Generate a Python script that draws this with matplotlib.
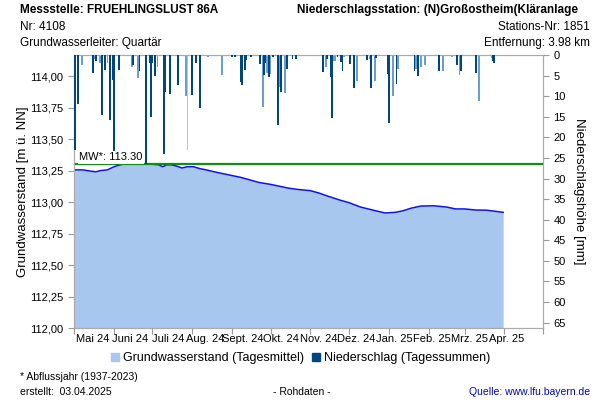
import datetime as dt
import matplotlib
matplotlib.use('Agg')
import matplotlib.pyplot as plt
import matplotlib.dates as mdates
from matplotlib.lines import Line2D

plt.rcParams['font.family'] = ['Liberation Sans', 'DejaVu Sans']

# Grundwasserstand (Tagesmittel)
gw_dates = ['2024-05-01', '2024-05-08', '2024-05-14', '2024-05-18', '2024-05-22', '2024-05-27',
            '2024-05-31', '2024-06-04', '2024-06-08', '2024-06-20', '2024-07-01', '2024-07-06',
            '2024-07-09', '2024-07-12', '2024-07-16', '2024-07-20', '2024-07-24', '2024-07-28',
            '2024-08-02', '2024-08-07', '2024-08-12', '2024-08-18', '2024-08-25', '2024-09-01',
            '2024-09-08', '2024-09-15', '2024-09-22', '2024-10-01', '2024-10-08', '2024-10-15',
            '2024-10-22', '2024-11-01', '2024-11-08', '2024-11-15', '2024-11-24', '2024-12-01',
            '2024-12-10', '2024-12-16', '2024-12-22', '2024-12-29', '2025-01-06', '2025-01-12',
            '2025-01-18', '2025-01-26', '2025-02-05', '2025-02-15', '2025-02-22', '2025-03-01',
            '2025-03-10', '2025-03-18', '2025-03-22', '2025-03-31']
gw_levels = [113.255, 113.255, 113.245, 113.240, 113.250, 113.255,
             113.275, 113.290, 113.300, 113.300, 113.300, 113.295,
             113.280, 113.295, 113.295, 113.285, 113.270, 113.280,
             113.280, 113.265, 113.255, 113.240, 113.225, 113.210,
             113.195, 113.175, 113.155, 113.140, 113.125, 113.110,
             113.100, 113.090, 113.070, 113.045, 113.015, 112.995,
             112.960, 112.945, 112.930, 112.913, 112.918, 112.930,
             112.950, 112.968, 112.970, 112.960, 112.945, 112.945,
             112.936, 112.935, 112.930, 112.918]

# Niederschlag (Tagessummen) in mm, dark and light bars
rain_dark_dates = ['2024-05-02', '2024-05-04', '2024-05-16', '2024-05-18', '2024-05-23', '2024-05-25',
                   '2024-05-29', '2024-05-31', '2024-06-01', '2024-06-05', '2024-06-16', '2024-06-21',
                   '2024-06-26', '2024-06-29', '2024-06-30', '2024-07-01', '2024-07-03', '2024-07-10',
                   '2024-07-11', '2024-07-15', '2024-07-21', '2024-08-01', '2024-08-04', '2024-08-07',
                   '2024-09-01', '2024-09-03', '2024-09-08', '2024-09-09', '2024-09-11', '2024-09-12',
                   '2024-09-16', '2024-09-23', '2024-09-26', '2024-09-27', '2024-09-30', '2024-10-03',
                   '2024-10-07', '2024-10-09', '2024-10-14', '2024-10-18', '2024-10-21', '2024-11-11',
                   '2024-11-14', '2024-11-17', '2024-11-18', '2024-11-22', '2024-11-25', '2024-11-26',
                   '2024-12-02', '2024-12-05', '2024-12-15', '2024-12-18', '2024-12-22', '2024-12-31',
                   '2025-01-01', '2025-01-07', '2025-01-21', '2025-01-24', '2025-02-09', '2025-02-23',
                   '2025-02-26', '2025-03-10', '2025-03-23', '2025-03-24']
rain_dark_mm = [23.0, 12.0, 4.4, 1.5, 14.6, 3.6,
                15.8, 6.0, 24.0, 3.6, 2.5, 4.0,
                26.5, 2.0, 15.0, 2.0, 5.0, 24.0,
                9.0, 9.4, 7.2, 9.7, 2.0, 12.8,
                0.5, 0.5, 6.6, 7.2, 3.7, 1.2,
                0.6, 2.3, 4.9, 2.0, 5.4, 0.6,
                17.0, 9.0, 3.3, 1.0, 1.0, 4.1,
                1.0, 5.4, 15.3, 0.6, 1.6, 4.0,
                2.2, 8.0, 1.2, 8.0, 0.8, 4.5,
                16.6, 7.0, 4.0, 5.0, 3.8, 2.4,
                3.8, 4.3, 1.5, 2.0]

rain_light_dates = ['2024-05-07', '2024-05-17', '2024-05-21', '2024-05-27', '2024-06-15', '2024-06-20',
                    '2024-07-05', '2024-07-27', '2024-08-13', '2024-08-24', '2024-09-25', '2024-09-28',
                    '2024-10-01', '2024-10-08', '2024-10-12', '2024-11-13', '2024-11-19', '2024-11-20',
                    '2024-11-27', '2024-12-07', '2024-12-17', '2024-12-21', '2025-01-04', '2025-01-08',
                    '2025-01-22', '2025-01-26', '2025-01-29', '2025-02-12', '2025-02-19', '2025-02-25',
                    '2025-03-12', '2025-03-22']
rain_light_mm = [2.4, 1.0, 2.0, 2.0, 3.0, 5.5,
                 3.0, 10.0, 0.5, 4.8, 12.7, 4.3,
                 4.5, 7.8, 9.3, 2.9, 1.5, 1.5,
                 0.6, 6.4, 1.0, 6.3, 10.0, 3.5,
                 3.5, 3.0, 2.4, 3.8, 0.5, 4.9,
                 11.1, 0.8]

# one very pale bar
rain_pale_dates = ['2024-07-28']
rain_pale_mm = [23.0]

mw_value = 113.30
month_labels = ['Mai 24', 'Juni 24', 'Juli 24', 'Aug. 24', 'Sept. 24', 'Okt. 24',
                'Nov. 24', 'Dez. 24', 'Jan. 25', 'Feb. 25', 'Mrz. 25', 'Apr. 25']
left_ticks = [112.00, 112.25, 112.50, 112.75, 113.00, 113.25, 113.50, 113.75, 114.00]
right_ticks = list(range(0, 70, 5))


def to_dt(lst):
    return [dt.datetime.strptime(s, '%Y-%m-%d') for s in lst]


fig = plt.figure(figsize=(6, 4), dpi=100)
ax = fig.add_axes([74 / 600, 72 / 400, 469 / 600, 273 / 400])

gx = to_dt(gw_dates)
ax.fill_between(gx, gw_levels, 112.0, color='#a7c7ef', lw=0, zorder=1)
ax.plot(gx, gw_levels, color='#1010ee', lw=1.1, zorder=2)
ax.axhline(mw_value, color='#109010', lw=1.6, zorder=3)

x0 = dt.datetime(2024, 5, 1)
x1 = dt.datetime(2025, 5, 1)
ax.set_xlim(x0, x1)
ax.set_ylim(112.0, 114.167)
ax.set_yticks(left_ticks)
ax.set_yticklabels([f'{v:.2f}'.replace('.', ',') for v in left_ticks])
ax.set_ylabel('Grundwasserstand [m ü. NN]', fontsize=9.5, labelpad=1)

# month ticks at the first of each month, labels spread out evenly
ax.xaxis.set_major_locator(mdates.MonthLocator())
ax.xaxis.set_major_formatter(plt.NullFormatter())
lab_start = mdates.date2num(x0) + 14.5
lab_pos = [lab_start + i * 29.3 for i in range(len(month_labels))]
ax.set_xticks(lab_pos, minor=True)
ax.set_xticklabels(month_labels, minor=True)
ax.tick_params(axis='x', which='minor', length=0, labelsize=8, pad=4)
ax.tick_params(axis='x', which='major', length=4, color='#999999')
ax.tick_params(axis='y', length=4, color='#999999', labelsize=8)

for s in ax.spines.values():
    s.set_color('#aaaaaa')

# precipitation on the twin axis, hanging from the top
ax2 = ax.twinx()
ax2.bar(to_dt(rain_dark_dates), rain_dark_mm, width=1.4, color='#00467f', lw=0, align='center', zorder=3)
ax2.bar(to_dt(rain_light_dates), rain_light_mm, width=1.4, color='#6b9dd0', lw=0, align='center', zorder=2)
ax2.bar(to_dt(rain_pale_dates), rain_pale_mm, width=0.7, color='#b0c6e0', lw=0, align='center', zorder=1)
ax2.set_ylim(66.3, 0)
ax2.set_yticks(right_ticks)
ax2.tick_params(axis='y', length=4, color='#999999', labelsize=8)
ax2.set_ylabel('Niederschlagshöhe [mm]', fontsize=9.5, rotation=270, labelpad=14)
for s in ax2.spines.values():
    s.set_color('#aaaaaa')
ax2.set_xlim(x0, x1)

ax2.text(dt.datetime(2024, 5, 5), mw_value + 0.015, 'MW*: 113.30', transform=ax.transData,
         fontsize=8, va='bottom', ha='left', zorder=5,
         bbox=dict(facecolor='white', edgecolor='none', pad=1.0))

# header
fig.text(20 / 600, 1 - 10 / 400, 'Messstelle: FRUEHLINGSLUST 86A', fontsize=8.5, fontweight='bold', va='center')
fig.text(20 / 600, 1 - 27 / 400, 'Nr: 4108', fontsize=8.5, va='center')
fig.text(20 / 600, 1 - 43 / 400, 'Grundwasserleiter: Quartär', fontsize=8.5, va='center')
fig.text(297 / 600, 1 - 10 / 400, 'Niederschlagsstation: (N)Großostheim(Kläranlage', fontsize=8.5,
         fontweight='bold', va='center')
fig.text(590 / 600, 1 - 27 / 400, 'Stations-Nr: 1851', fontsize=8.5, ha='right', va='center')
fig.text(590 / 600, 1 - 43 / 400, 'Entfernung: 3.98 km', fontsize=8.5, ha='right', va='center')

# legend
handles = [Line2D([], [], marker='s', ls='', color='#a7c7ef', markersize=6),
           Line2D([], [], marker='s', ls='', color='#00467f', markersize=6)]
fig.legend(handles, ['Grundwasserstand (Tagesmittel)', 'Niederschlag (Tagessummen)'],
           loc='center', bbox_to_anchor=(0.5, 1 - 358 / 400), ncol=2, frameon=False,
           fontsize=9, handletextpad=0.2, columnspacing=0.6, handlelength=0.8)

# footer
fig.text(20 / 600, 1 - 377 / 400, '* Abflussjahr (1937-2023)', fontsize=7.5, va='center')
fig.text(20 / 600, 1 - 392 / 400, 'erstellt:  03.04.2025', fontsize=7.5, va='center')
fig.text(302 / 600, 1 - 392 / 400, '- Rohdaten -', fontsize=7.5, ha='center', va='center')
fig.text(590 / 600, 1 - 392 / 400, 'Quelle: www.lfu.bayern.de', fontsize=7.5, ha='right', va='center',
         color='#0000cc')

fig.savefig('out.png', dpi=100)
